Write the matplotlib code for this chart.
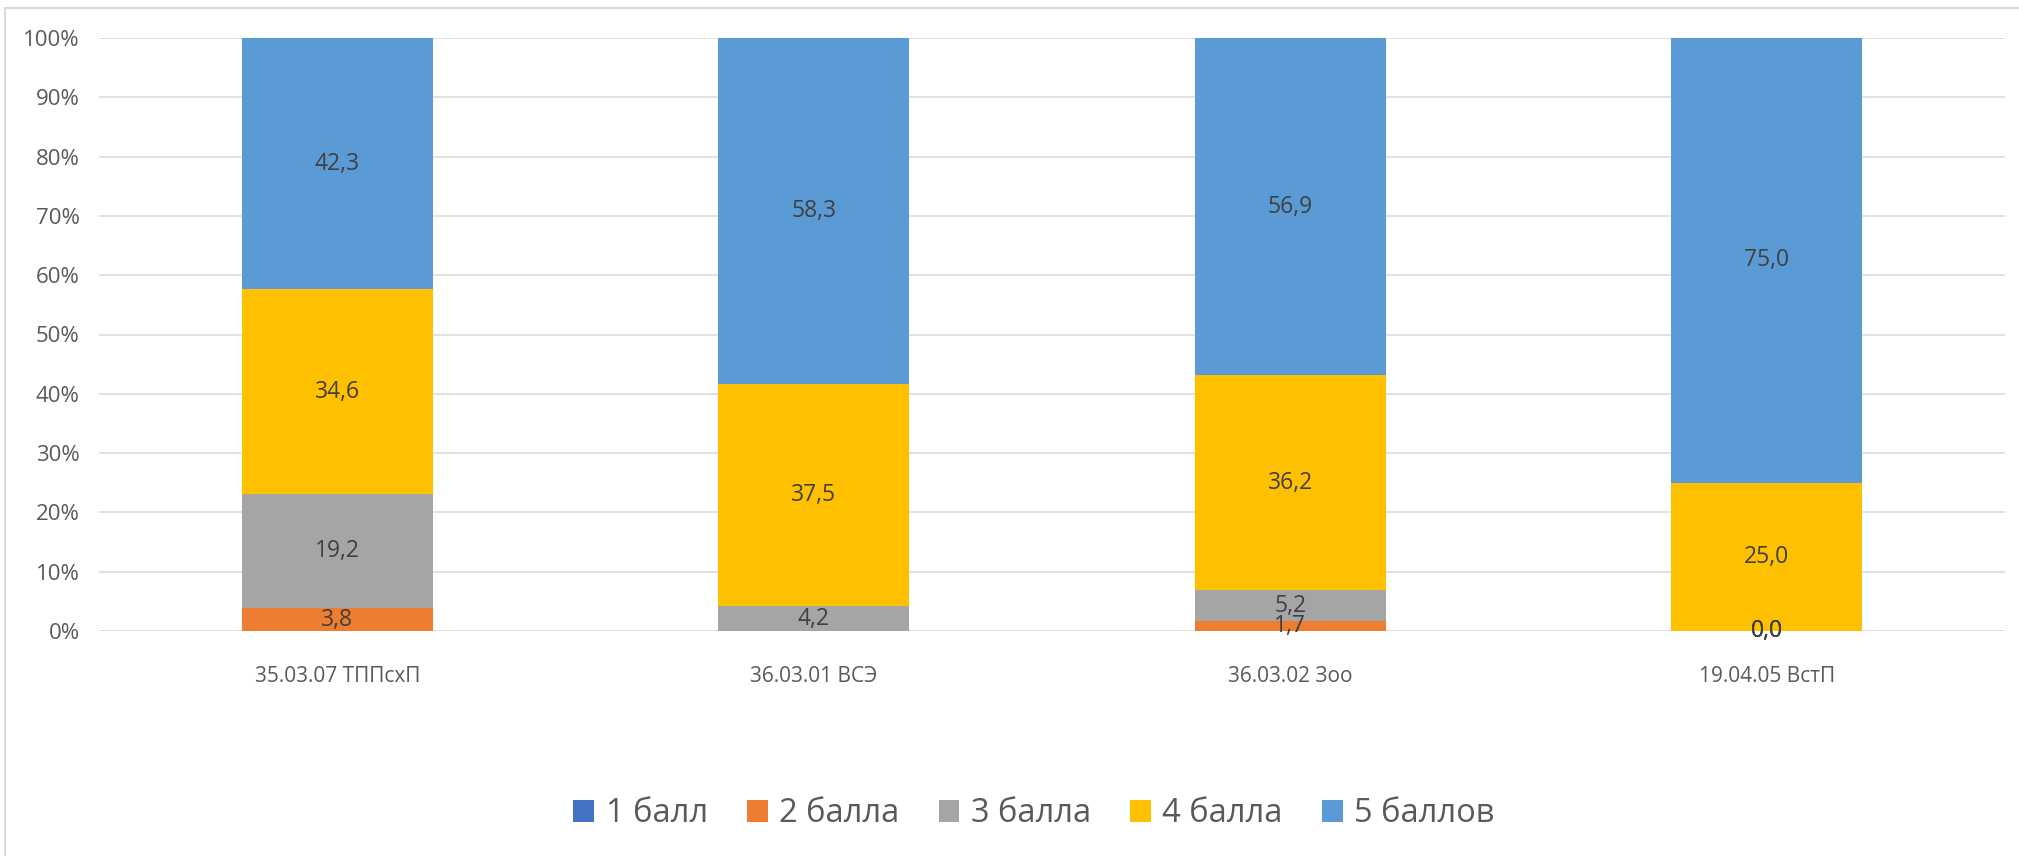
import numpy as np
import matplotlib
matplotlib.use('Agg')
import matplotlib.pyplot as plt
from matplotlib.patches import Rectangle
from matplotlib.ticker import FuncFormatter

plt.rcParams['font.family'] = ['Open Sans', 'DejaVu Sans']

categories = ['35.03.07 ТППсхП', '36.03.01 ВСЭ', '36.03.02 Зоо', '19.04.05 ВстП']
series = ['1 балл', '2 балла', '3 балла', '4 балла', '5 баллов']
# nan = empty cell (no label), 0.0 = shown as "0,0"
ball_1 = [np.nan, np.nan, np.nan, 0.0]
ball_2 = [3.8, np.nan, 1.7, 0.0]
ball_3 = [19.2, 4.2, 5.2, 0.0]
ball_4 = [34.6, 37.5, 36.2, 25.0]
ball_5 = [42.3, 58.3, 56.9, 75.0]
colors = ['#4472C4', '#ED7D31', '#A5A5A5', '#FFC000', '#5B9BD5']

data = np.array([ball_1, ball_2, ball_3, ball_4, ball_5], dtype=float)
vals = np.nan_to_num(data)
totals = vals.sum(axis=0)
shares = vals / totals

fig = plt.figure(figsize=(20.19, 8.56), dpi=100)
ax = fig.add_axes([99/2019, 1-631/856, (2005-99)/2019, (631-38)/856])

x = np.arange(len(categories))
bottom = np.zeros(len(categories))
for i, name in enumerate(series):
    bars = ax.bar(x, shares[i], 0.4, bottom=bottom, color=colors[i], label=name, zorder=2)
    for j in range(len(categories)):
        if not np.isnan(data[i, j]):
            ax.text(x[j], bottom[j] + shares[i, j] / 2, ('%.1f' % data[i, j]).replace('.', ','),
                    ha='center', va='center', fontsize=16.5, color='#404040', zorder=3)
    bottom = bottom + shares[i]

ax.set_xlim(-0.5, len(categories) - 0.5)
ax.set_ylim(0, 1)
ax.set_yticks(np.arange(0, 1.01, 0.1))
ax.yaxis.set_major_formatter(FuncFormatter(lambda v, p: '%d%%' % round(v * 100)))
ax.set_xticks(x)
ax.set_xticklabels(categories)
ax.grid(axis='y', color='#d9d9d9', linewidth=1.1, zorder=0)
for s in ax.spines.values():
    s.set_visible(False)
ax.tick_params(axis='y', length=0, pad=14, labelsize=16, labelcolor='#595959')
ax.tick_params(axis='x', length=0, pad=25, labelsize=15, labelcolor='#595959')

leg = fig.legend(loc='center', bbox_to_anchor=(1034/2019, 1-814/856), ncol=5, frameon=False,
                 fontsize=23.5, handlelength=0.64, handleheight=0.64, handletextpad=0.35,
                 columnspacing=1.2, labelcolor='#595959')

fig.patches.append(Rectangle((5/2019, -0.1), 1.2, 1.1 - 8/856, transform=fig.transFigure,
                             fill=False, edgecolor='#d9d9d9', linewidth=1.5))

fig.savefig('out.png', dpi=100)
